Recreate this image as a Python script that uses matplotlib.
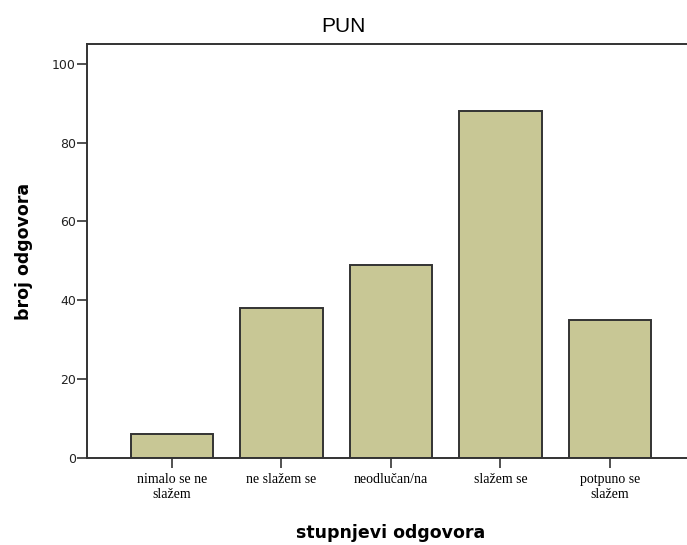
import matplotlib
matplotlib.use("Agg")
import matplotlib.pyplot as plt
import numpy as np

categories = ['nimalo se ne\nslažem', 'ne slažem se', 'neodlučan/na', 'slažem se', 'potpuno se\nslažem']
counts = [6, 38, 49, 88, 35]
y_ticks = [0, 20, 40, 60, 80, 100]

fig = plt.figure(figsize=(6.87, 5.45), dpi=100)
# axes run a bit past the right edge, as in the cropped original
ax = fig.add_axes([0.1266, 0.1596, 0.885, 0.7596])

x = np.arange(len(categories))
ax.bar(x, counts, width=0.75, color='#c8c795', edgecolor='#333333', linewidth=1.4, zorder=2)

ax.set_xlim(-0.776, len(categories) - 1 + 0.776)
ax.set_ylim(0, 105)
ax.set_yticks(y_ticks)
ax.set_xticks(x)
ax.set_xticklabels(categories, family='Liberation Serif', fontsize=10, linespacing=1.15)
ax.tick_params(axis='y', length=7, width=1.2, color='#333333', labelsize=9, labelcolor='#222222', pad=1)
ax.tick_params(axis='x', length=7, width=1.2, color='#333333', pad=4)

for sp in ax.spines.values():
    sp.set_linewidth(1.4)
    sp.set_color('#333333')

ax.set_ylabel('broj odgovora', fontsize=12.5, fontweight='bold', labelpad=14)
ax.set_xlabel('stupnjevi odgovora', fontsize=12.5, fontweight='bold', labelpad=17)
fig.text(0.5, 0.952, 'PUN', ha='center', va='center', family='Liberation Sans', fontsize=15)

plt.savefig('out.png', dpi=100)
